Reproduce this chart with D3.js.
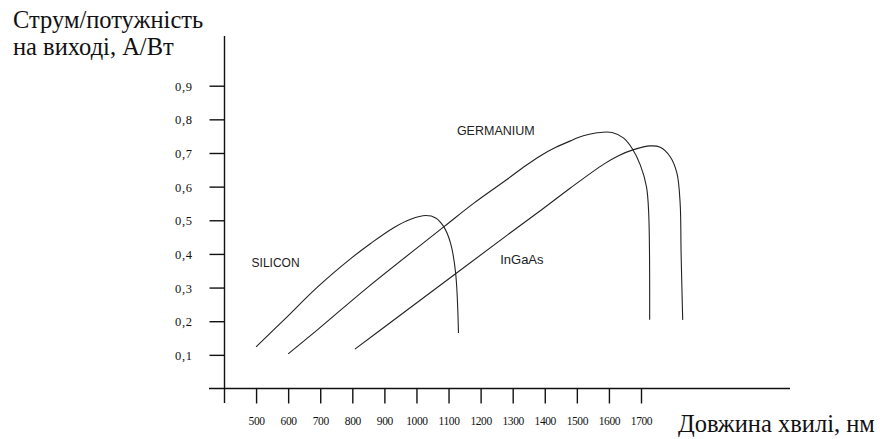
<!DOCTYPE html>
<html>
<head>
<meta charset="utf-8">
<script src="https://cdn.jsdelivr.net/npm/d3@7"></script>
<style>
  html, body { margin: 0; padding: 0; background: #fff; }
  svg { display: block; }
</style>
</head>
<body>
<svg id="chart" width="880" height="439"></svg>
<script>
// ---- data ----
const yTicks = [0.1, 0.2, 0.3, 0.4, 0.5, 0.6, 0.7, 0.8, 0.9];
const xTicks = [500, 600, 700, 800, 900, 1000, 1100, 1200, 1300, 1400, 1500, 1600, 1700];
const yTitle = ["Струм/потужність", "на виході, А/Вт"];
const xTitle = "Довжина хвилі, нм";

const siliconNm  = [500, 587, 692, 795, 857, 929, 982, 1029, 1060, 1085, 1106, 1122, 1131];
const siliconVal = [0.124, 0.204, 0.302, 0.386, 0.431, 0.478, 0.503, 0.514, 0.507, 0.481, 0.433, 0.344, 0.165];

const germaniumNm  = [600, 692, 847, 1086, 1179, 1283, 1340, 1387, 1433, 1480, 1520, 1563, 1610, 1646, 1672, 1698, 1717, 1724, 1727];
const germaniumVal = [0.103, 0.175, 0.300, 0.481, 0.551, 0.622, 0.662, 0.692, 0.716, 0.736, 0.751, 0.760, 0.761, 0.744, 0.714, 0.664, 0.600, 0.521, 0.204];

const ingaasNm  = [808, 920, 1122, 1283, 1387, 1480, 1584, 1630, 1677, 1729, 1760, 1791, 1812, 1822, 1825, 1830];
const ingaasVal = [0.117, 0.197, 0.341, 0.456, 0.529, 0.596, 0.667, 0.692, 0.710, 0.721, 0.717, 0.689, 0.640, 0.551, 0.402, 0.204];

const seriesNames = ["SILICON", "GERMANIUM", "InGaAs"];

// ---- drawing ----
const svg = d3.select("#chart");
const x = d3.scaleLinear().domain([400, 1700]).range([224, 641]);
const y = d3.scaleLinear().domain([0, 0.9]).range([388.5, 85.7]);

const axisColor = "#111";
// y axis line (extends below x-axis)
svg.append("line").attr("x1", 224.5).attr("x2", 224.5).attr("y1", 36).attr("y2", 403)
  .attr("stroke", axisColor).attr("stroke-width", 1.4);
// x axis line (extends left of y axis)
svg.append("line").attr("x1", 209).attr("x2", 790).attr("y1", y(0)).attr("y2", y(0))
  .attr("stroke", axisColor).attr("stroke-width", 1.4);

// y ticks
const yAxis = d3.axisLeft(y).tickValues(yTicks).tickSize(15).tickPadding(17)
  .tickFormat(d => d3.format(".1f")(d).replace(".", ","));
const gy = svg.append("g").attr("transform", "translate(224.5,0)").call(yAxis);
gy.select(".domain").remove();
gy.selectAll(".tick line").attr("stroke", axisColor).attr("stroke-width", 1.4);
gy.selectAll(".tick text").attr("fill", "#111")
  .style("font-family", "'Liberation Serif', 'DejaVu Serif', serif")
  .style("font-size", "12.5px").style("letter-spacing", "0.6px").attr("dy", "0.36em");

// x ticks
const xAxis = d3.axisBottom(x).tickValues(xTicks).tickSize(15).tickPadding(13)
  .tickFormat(d => String(d));
const gx = svg.append("g").attr("transform", `translate(0,${y(0)})`).call(xAxis);
gx.select(".domain").remove();
gx.selectAll(".tick line").attr("stroke", axisColor).attr("stroke-width", 1.4);
gx.selectAll(".tick text").attr("fill", "#111")
  .style("font-family", "'Liberation Serif', 'DejaVu Serif', serif")
  .style("font-size", "11.5px").style("letter-spacing", "-0.4px");

// titles
const serif = "'Liberation Serif', 'Times New Roman', serif";
svg.append("text").attr("x", 13).attr("y", 28).text(yTitle[0])
  .style("font-family", serif).style("font-size", "24.5px").attr("fill", "#111");
svg.append("text").attr("x", 13).attr("y", 55).text(yTitle[1])
  .style("font-family", serif).style("font-size", "24.5px").attr("fill", "#111");
svg.append("text").attr("x", 678).attr("y", 432).text(xTitle)
  .style("font-family", serif).style("font-size", "24.5px").attr("fill", "#111");

// curves
const line = d3.line().x(d => x(d[0])).y(d => y(d[1])).curve(d3.curveCatmullRom.alpha(0.5));
const series = [
  d3.zip(siliconNm, siliconVal),
  d3.zip(germaniumNm, germaniumVal),
  d3.zip(ingaasNm, ingaasVal)
];
svg.selectAll("path.curve").data(series).join("path")
  .attr("class", "curve")
  .attr("d", line)
  .attr("fill", "none")
  .attr("stroke", "#222")
  .attr("stroke-width", 1.1);

// series labels
const sans = "'Liberation Sans', Arial, sans-serif";
const labelPos = [[x(486), y(0.36)], [x(1126), y(0.753)], [x(1261), y(0.371)]];
const labelSize = [12, 12.5, 13];
svg.selectAll("text.series").data(seriesNames).join("text")
  .attr("class", "series")
  .attr("x", (d, i) => labelPos[i][0])
  .attr("y", (d, i) => labelPos[i][1])
  .style("font-family", sans)
  .style("font-size", (d, i) => labelSize[i] + "px")
  .attr("fill", "#222")
  .text(d => d);
</script>
</body>
</html>
